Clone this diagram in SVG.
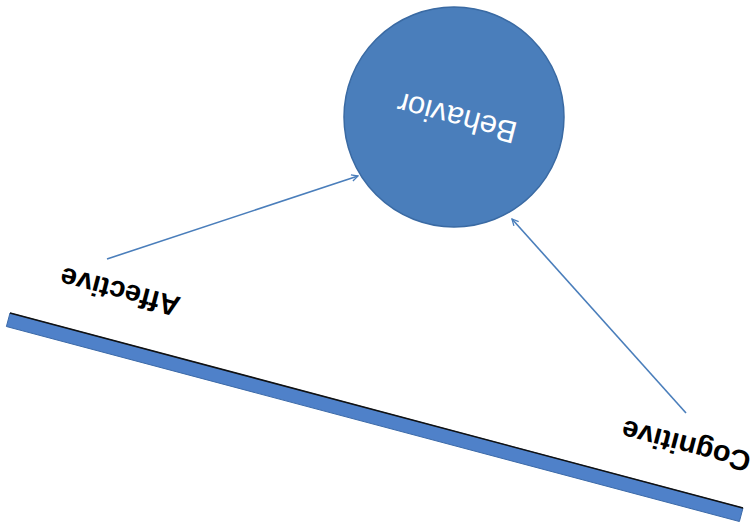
<svg xmlns="http://www.w3.org/2000/svg" width="755" height="524" viewBox="0 0 755 524">
<style>
.lbl{font-family:"Liberation Sans",Arial,sans-serif;font-weight:bold;font-size:29px;fill:#000;text-anchor:middle;dominant-baseline:central}
.conn{stroke:#4a7ebb;stroke-width:1.6;fill:none}
</style>
<defs>
<marker id="ah" viewBox="0 0 10 10" refX="9" refY="5" markerWidth="8" markerHeight="8" orient="auto" markerUnits="userSpaceOnUse">
<path d="M1,1 L9,5 L1,9" fill="none" stroke="#4a7ebb" stroke-width="1.6"/>
</marker>
</defs>
<rect width="755" height="524" fill="#fff"/>
<g id="bar">
<polygon points="10,313 743,508 739.4,521.5 6.4,326.5" fill="#4f81c9" stroke="#3c6aa8" stroke-width="1"/>
<line x1="10" y1="313" x2="743" y2="508" stroke="#111" stroke-width="1.6"/>
</g>
<g id="behavior">
<circle cx="454" cy="117" r="110" fill="#4a7ebb" stroke="#3a6aa3" stroke-width="1.5"/>
<text x="0" y="0" transform="translate(457,118) rotate(194.6)" style="font-family:'Liberation Sans',Arial,sans-serif;font-size:31px;fill:#fff;text-anchor:middle;dominant-baseline:central">Behavior</text>
</g>
<g id="affective">
<text class="lbl" transform="translate(120,292) rotate(194.6)">Affective</text>
</g>
<g id="cognitive">
<text class="lbl" transform="translate(686,446) rotate(194.6)">Cognitive</text>
</g>
<g id="connectors">
<line class="conn" x1="107" y1="259" x2="358" y2="176" marker-end="url(#ah)"/>
<line class="conn" x1="686" y1="413" x2="512" y2="219" marker-end="url(#ah)"/>
</g>
</svg>
